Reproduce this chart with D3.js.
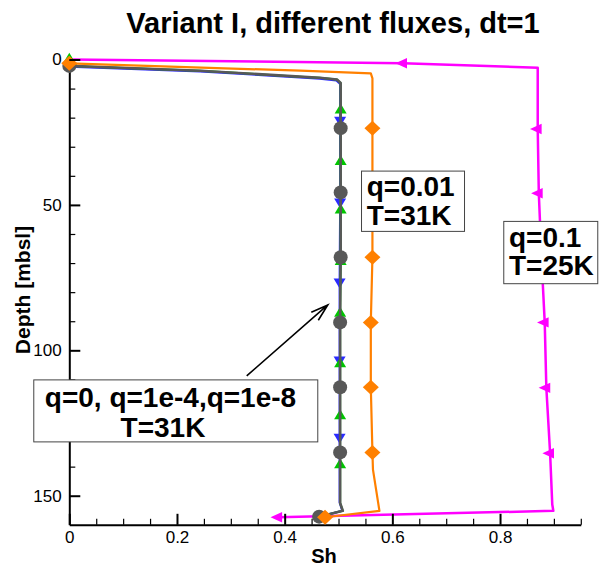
<!DOCTYPE html>
<meta charset="utf-8">
<style>
body{margin:0;background:#fff;}
svg{display:block;font-family:"Liberation Sans",Arial,Helvetica,sans-serif;}
</style>
<svg width="600" height="568"></svg>
<script src="https://cdn.jsdelivr.net/npm/d3@7"></script>
<script>
// Sh profiles against depth [mbsl]
var q01Depth = [0, 1.3, 2.8, 23.9, 46.0, 68.2, 90.4, 112.9, 135.4, 153.0, 155.2, 157.4];
var q01Sh    = [0, 0.62, 0.870, 0.870, 0.872, 0.877, 0.883, 0.886, 0.893, 0.897, 0.899, 0.388];
var q01Marks = [1, 3, 4, 5, 6, 7, 8, 11];

var q8Depth = [2.5, 4.1, 6.2, 6.6, 7.2, 8.4, 20.8, 48.9, 76.4, 103.3, 129.8, 152.3, 155.2, 157.2];
var q8Sh    = [0, 0.243, 0.428, 0.465, 0.496, 0.503, 0.503, 0.503, 0.502, 0.502, 0.502, 0.502, 0.507, 0.464];
var q8Marks = [6, 7, 8, 9, 10];

var q4Depth = [0, 2.3, 3.85, 5.9, 6.3, 6.9, 8.1, 17.4, 35.1, 51.8, 69.5, 87.3, 104.7, 122.6, 139.4, 152.5, 155.2, 157.2];
var q4Sh    = [0, 0.015, 0.243, 0.428, 0.465, 0.497, 0.504, 0.504, 0.504, 0.504, 0.504, 0.503, 0.503, 0.503, 0.503, 0.503, 0.508, 0.464];
var q4Marks = [0, 7, 8, 9, 10, 11, 12, 13, 14];

var q0Depth = [2.2, 3.85, 5.9, 6.3, 6.9, 8.1, 23.6, 45.7, 68.0, 90.4, 112.7, 135.1, 152.5, 155.2, 157.2];
var q0Sh    = [0, 0.243, 0.428, 0.465, 0.497, 0.504, 0.504, 0.504, 0.504, 0.503, 0.503, 0.503, 0.503, 0.508, 0.464];
var q0Marks = [0, 6, 7, 8, 9, 10, 11, 14];

var q001Depth = [1.3, 3.85, 4.75, 6.5, 23.6, 45.7, 68.0, 90.4, 112.7, 135.1, 141.0, 155.2, 157.4];
var q001Sh    = [0, 0.429, 0.560, 0.563, 0.563, 0.563, 0.563, 0.560, 0.560, 0.563, 0.564, 0.576, 0.475];
var q001Marks = [0, 4, 5, 6, 7, 8, 9, 12];

var shMajor = [0, 0.2, 0.4, 0.6, 0.8];
var shMinor = [0.05, 0.1, 0.15, 0.25, 0.3, 0.35, 0.45, 0.5, 0.55, 0.65, 0.7, 0.75, 0.85, 0.9, 0.95];
var depthMajor = [0, 50, 100, 150];
var depthMinor = [10, 20, 30, 40, 60, 70, 80, 90, 110, 120, 130, 140];

var svg = d3.select("svg");
var x = d3.scaleLinear().domain([0, 0.95]).range([69.3, 580.8]);
var y = d3.scaleLinear().domain([0, 160]).range([59.5, 524.8]);
var fmt = d3.format("~g");

// symbols, centred on the data point
var triUp = "M0,-6.7L6,3.3L-6,3.3Z";
var triDown = "M0,6.7L6,-3.3L-6,-3.3Z";
var triLeft = "M-7.7,0L3.9,-5.2L3.9,5.2Z";
var diamond = "M0,-7.5L8,0L0,7.5L-8,0Z";
var circle = d3.symbol(d3.symbolCircle, Math.PI * 7 * 7)();

var series = [
	{sh: q01Sh, depth: q01Depth, marks: q01Marks, color: "#ff00ff", width: 2.5, sym: triLeft},
	{sh: q8Sh, depth: q8Depth, marks: q8Marks, color: "#2a2aff", width: 2, sym: triDown},
	{sh: q4Sh, depth: q4Depth, marks: q4Marks, color: "#00c400", width: 2, sym: triUp},
	{sh: q0Sh, depth: q0Depth, marks: q0Marks, color: "#585858", width: 2.6, sym: circle},
	{sh: q001Sh, depth: q001Depth, marks: q001Marks, color: "#ff8000", width: 2.2, sym: diamond}
];

// axis lines under the data
svg.append("g").attr("transform", "translate(0," + y(160) + ")")
	.call(d3.axisBottom(x).tickValues([]).tickSizeOuter(0))
	.select(".domain").attr("stroke-width", 2);
svg.append("g").attr("transform", "translate(" + x(0) + ",0)")
	.call(d3.axisLeft(y).tickValues([]).tickSizeOuter(0))
	.select(".domain").attr("stroke-width", 2);

var line = d3.line().x(function(d) { return x(d[0]); }).y(function(d) { return y(d[1]); });

series.forEach(function(s) {
	var pts = d3.zip(s.sh, s.depth);
	svg.append("path").datum(pts)
		.attr("d", line)
		.attr("fill", "none")
		.attr("stroke", s.color)
		.attr("stroke-width", s.width)
		.attr("stroke-linejoin", "round");
	svg.append("g").selectAll("path")
		.data(s.marks.map(function(i) { return pts[i]; }))
		.join("path")
		.attr("d", s.sym)
		.attr("fill", s.color)
		.attr("transform", function(d) { return "translate(" + x(d[0]) + "," + y(d[1]) + ")"; });
});

// ticks point inward, drawn on top
function ticks(g, axis, w) {
	g.call(axis);
	g.select(".domain").remove();
	g.selectAll(".tick line").attr("stroke-width", w);
	g.attr("font-size", 17).attr("font-family", null);
	g.selectAll(".tick text").attr("fill", "#000");
}
svg.append("g").attr("transform", "translate(0," + y(160) + ")")
	.call(ticks, d3.axisBottom(x).tickValues(shMajor).tickSizeInner(-11).tickSizeOuter(0).tickPadding(6.3).tickFormat(fmt), 2);
svg.append("g").attr("transform", "translate(0," + y(160) + ")")
	.call(ticks, d3.axisBottom(x).tickValues(shMinor).tickSizeInner(-6).tickSizeOuter(0).tickFormat(""), 1.2);
svg.append("g").attr("transform", "translate(" + x(0) + ",0)")
	.call(ticks, d3.axisLeft(y).tickValues(depthMajor).tickSizeInner(-11).tickSizeOuter(0).tickPadding(7.6).tickFormat(fmt), 2);
svg.append("g").attr("transform", "translate(" + x(0) + ",0)")
	.call(ticks, d3.axisLeft(y).tickValues(depthMinor).tickSizeInner(-6).tickSizeOuter(0).tickFormat(""), 1.2);

// titles
svg.append("text").attr("x", 333).attr("y", 33).attr("text-anchor", "middle")
	.attr("font-size", 29).attr("font-weight", "bold").text("Variant I, different fluxes, dt=1");
svg.append("text").attr("x", 324).attr("y", 563).attr("text-anchor", "middle")
	.attr("font-size", 20).attr("font-weight", "bold").text("Sh");
svg.append("text").attr("transform", "translate(30,290) rotate(-90)").attr("text-anchor", "middle")
	.attr("font-size", 21).attr("font-weight", "bold").text("Depth [mbsl]");

// arrow to the low-flux curves
var tail = [0.3295, 108.8], tip = [0.48, 84.4];
var ax = x(tail[0]), ay = y(tail[1]), bx = x(tip[0]), by = y(tip[1]);
var ang = Math.atan2(ay - by, ax - bx), hl = 18, ha = 0.3;
svg.append("path")
	.attr("d", "M" + ax + "," + ay + "L" + bx + "," + by +
		"M" + (bx + hl * Math.cos(ang - ha)) + "," + (by + hl * Math.sin(ang - ha)) + "L" + bx + "," + by +
		"L" + (bx + hl * Math.cos(ang + ha)) + "," + (by + hl * Math.sin(ang + ha)))
	.attr("fill", "none").attr("stroke", "#000").attr("stroke-width", 1.6);

// text boxes, anchored at their top-left corner in data units
var notes = [
	{sh: 0.5418, depth: 38.2, w: 103, h: 60.3, lines: [["q=0.01", 5.7, 25.5, "start"], ["T=31K", 5.7, 54, "start"]]},
	{sh: 0.806, depth: 55.5, w: 94, h: 62.3, lines: [["q=0.1", 5.7, 25.8, "start"], ["T=25K", 5.7, 54.3, "start"]]},
	{sh: -0.0669, depth: 110.0, w: 284, h: 62, lines: [["q=0, q=1e-4,q=1e-8", 137.2, 27.4, "middle"], ["T=31K", 129.7, 57.4, "middle"]]}
];
notes.forEach(function(n) {
	var g = svg.append("g").attr("transform", "translate(" + x(n.sh) + "," + y(n.depth) + ")");
	g.append("rect").attr("x", 0.5).attr("y", 0.5).attr("width", n.w).attr("height", n.h)
		.attr("fill", "#fff").attr("stroke", "#444").attr("stroke-width", 1);
	n.lines.forEach(function(l) {
		g.append("text").attr("x", l[1]).attr("y", l[2]).attr("text-anchor", l[3])
			.attr("font-size", 28).attr("font-weight", "bold").text(l[0]);
	});
});
</script>
